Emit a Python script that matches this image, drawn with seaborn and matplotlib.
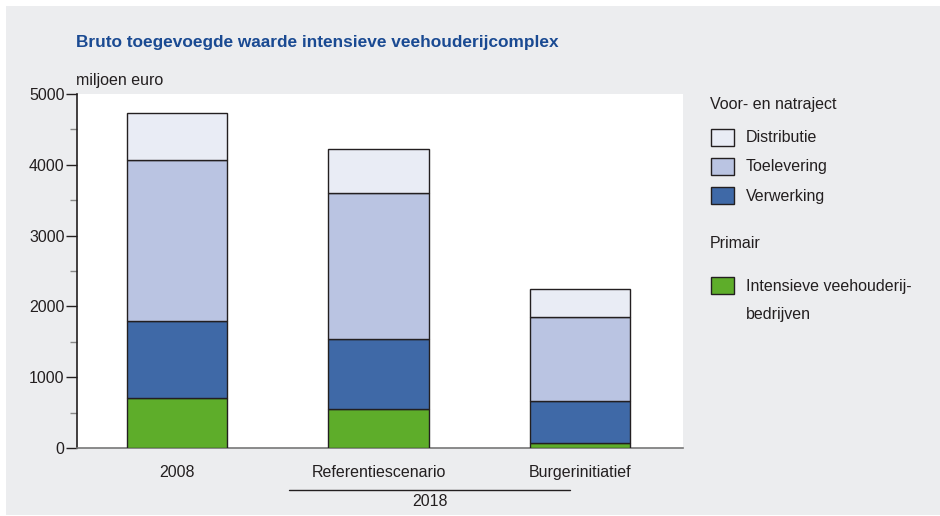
import matplotlib
matplotlib.use("Agg")
import matplotlib.pyplot as plt
import matplotlib.patches as mpatches
import seaborn as sns
import pandas as pd
import numpy as np

categories = ["2008", "Referentiescenario", "Burgerinitiatief"]
primair = [706, 551, 71]          # Intensieve veehouderijbedrijven
verwerking = [1088, 989, 593]
toelevering = [2274, 2062, 1186]
distributie = [664, 621, 396]

series_names = ["Intensieve veehouderij-\nbedrijven", "Verwerking", "Toelevering", "Distributie"]
colors = {"Distributie": "#E9ECF5", "Toelevering": "#BAC4E2",
          "Verwerking": "#3F69A7", "Intensieve veehouderij-\nbedrijven": "#5EAD2A"}

sns.set_style("white")
fam = ["Liberation Sans Narrow", "Liberation Sans", "DejaVu Sans"]
plt.rcParams["font.family"] = fam

bg = "#ECEDEF"
txt = "#231F20"
fig = plt.figure(figsize=(9.4, 5.16), dpi=100)
fig.patch.set_facecolor("white")
fig.patches.append(mpatches.Rectangle((6 / 940, 1 / 516), 934 / 940, 509 / 516,
                                      transform=fig.transFigure, facecolor=bg,
                                      edgecolor="none", zorder=-10))

ax = fig.add_axes([77 / 940, 1 - 448 / 516, 606 / 940, 354 / 516])
ax.set_facecolor("white")

layers = [primair, verwerking, toelevering, distributie]
bottom = np.zeros(len(categories))
for name, vals in zip(series_names, layers):
    df = pd.DataFrame({"cat": categories, "val": vals})
    sns.barplot(data=df, x="cat", y="val", ax=ax, color=colors[name],
                bottom=bottom, width=0.5, edgecolor=txt, linewidth=1.0,
                saturation=1, zorder=3)
    bottom = bottom + np.array(vals)

ax.set_xlim(-0.496, 2.511)
ax.set_ylim(0, 5000)
ax.set_yticks(np.arange(0, 5001, 1000))
ax.set_yticks(np.arange(500, 5000, 1000), minor=True)
ax.tick_params(axis="y", which="major", direction="out", length=8, width=1,
               color=txt, labelsize=11.5, labelcolor=txt, left=True, pad=1)
ax.tick_params(axis="y", which="minor", direction="out", length=5, width=1,
               color="#888888", left=True)
ax.tick_params(axis="x", length=0, labelsize=11.5, labelcolor=txt, pad=12)
ax.set_xlabel("")
ax.set_ylabel("")
for s in ["top", "right"]:
    ax.spines[s].set_visible(False)
ax.spines["left"].set_color(txt)
ax.spines["left"].set_linewidth(1.2)
ax.spines["bottom"].set_color("#777777")
ax.spines["bottom"].set_linewidth(1.2)

# Title and unit
fig.text(76 / 940, 1 - 43 / 516, "Bruto toegevoegde waarde intensieve veehouderijcomplex",
         fontsize=12.4, fontweight="bold", color="#1A4A92", va="center", ha="left")
fig.text(76 / 940, 1 - 80 / 516, "miljoen euro", fontsize=11.5, color=txt,
         va="center", ha="left")

# 2018 group line
fig.lines.append(plt.Line2D([289 / 940, 570 / 940], [1 - 490 / 516, 1 - 490 / 516],
                            transform=fig.transFigure, color=txt, linewidth=1))
fig.text(430 / 940, 1 - 501 / 516, "2018", fontsize=11.5, color=txt,
         ha="center", va="center")

# Legend
fig.text(710 / 940, 1 - 104 / 516, "Voor- en natraject", fontsize=11.5, color=txt,
         va="center", ha="left")
leg_items = [("Distributie", 138), ("Toelevering", 167), ("Verwerking", 196)]
for name, yc in leg_items:
    fig.patches.append(mpatches.Rectangle((711 / 940, 1 - (yc + 8) / 516), 23 / 940, 17 / 516,
                                          transform=fig.transFigure,
                                          facecolor=colors[name], edgecolor=txt, linewidth=1))
    fig.text(746 / 940, 1 - yc / 516, name, fontsize=11.5, color=txt, va="center", ha="left")
fig.text(710 / 940, 1 - 243 / 516, "Primair", fontsize=11.5, color=txt,
         va="center", ha="left")
gname = "Intensieve veehouderij-\nbedrijven"
fig.patches.append(mpatches.Rectangle((711 / 940, 1 - (286 + 8) / 516), 23 / 940, 17 / 516,
                                      transform=fig.transFigure,
                                      facecolor=colors[gname], edgecolor=txt, linewidth=1))
fig.text(746 / 940, 1 - 286 / 516, "Intensieve veehouderij-", fontsize=11.5, color=txt,
         va="center", ha="left")
fig.text(746 / 940, 1 - 314 / 516, "bedrijven", fontsize=11.5, color=txt,
         va="center", ha="left")

fig.savefig("out.png", dpi=100, facecolor=fig.get_facecolor())
